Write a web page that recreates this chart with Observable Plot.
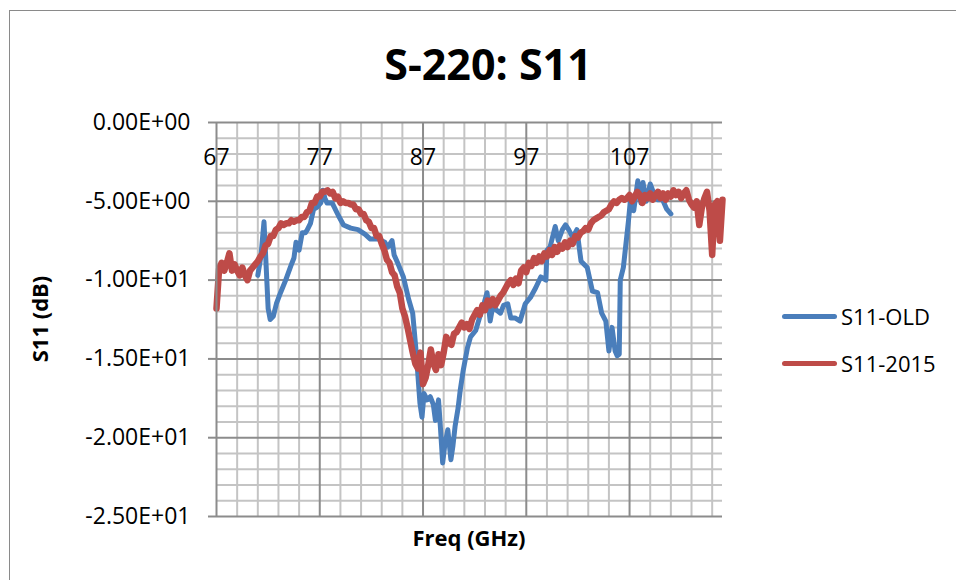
<!DOCTYPE html>
<html><head><meta charset="utf-8">
<script src="https://cdn.jsdelivr.net/npm/d3@7"></script>
<script src="https://cdn.jsdelivr.net/npm/@observablehq/plot@0.6"></script>
<style>
body{margin:0;background:#fff;font-family:"Open Sans",sans-serif;}
#wrap{position:relative;width:956px;height:580px;overflow:hidden;background:#fff;}
#border{position:absolute;left:9px;top:10px;width:1000px;height:1000px;border:1.5px solid #8a8a8a;}
.abs{position:absolute;white-space:nowrap;color:#000;}
#title{left:288px;width:400px;top:42px;text-align:center;font-size:43px;line-height:43px;font-weight:700;}
#ytitle{left:39px;top:319px;font-size:22px;line-height:22px;font-weight:700;transform:translate(-50%,-50%) rotate(-90deg);}
#xtitle{left:369px;width:200px;top:526px;text-align:center;font-size:22px;line-height:22px;font-weight:700;}
.lg-line{position:absolute;left:782px;width:55px;height:5px;border-radius:3px;}
.lg-text{position:absolute;left:841px;font-size:22px;line-height:22px;}
</style></head><body>
<div id="wrap">
<div id="border"></div>
<div id="chart" class="abs" style="left:0;top:0"></div>
<div id="title" class="abs">S-220: S11</div>
<div id="ytitle" class="abs">S11 (dB)</div>
<div id="xtitle" class="abs">Freq (GHz)</div>
<div id="legend"></div>
</div>
<script>
const seriesNames = ["S11-OLD", "S11-2015"];
const seriesColors = ["#4a7ebb", "#be4b48"];

const xTicks = [67, 77, 87, 97, 107];
const xMinorGrid = [69,71,73,75,79,81,83,85,89,91,93,95,99,101,103,105,109,111,113,115];
const xMajorGrid = [77, 87, 97, 107];
const yTicks = [0, -5, -10, -15, -20, -25];
const yMinorGrid = [-1,-2,-3,-4,-6,-7,-8,-9,-11,-12,-13,-14,-16,-17,-18,-19,-21,-22,-23,-24];
const yMajorGrid = [-5, -10, -15, -20, -25];

const oldFreq = [71.0,71.3,71.6,71.8,72.0,72.2,72.5,72.8,73.2,73.7,74.2,74.5,74.7,75.0,75.3,75.6,75.8,76.1,76.4,76.7,
77.1,77.3,77.5,77.7,78.2,78.8,79.3,80.0,80.7,81.4,81.9,82.7,83.3,83.6,84.0,84.2,84.6,85.1,85.6,86.0,
86.3,86.5,86.7,86.9,87.1,87.4,87.7,88.0,88.2,88.5,88.7,88.9,89.1,89.4,89.7,89.9,90.1,90.4,90.6,90.9,
91.3,91.6,92.1,92.6,92.9,93.2,93.5,93.8,94.1,94.5,94.8,95.2,95.5,95.9,96.4,96.9,97.4,97.9,98.4,98.9,
99.0,99.3,99.8,100.1,100.5,100.8,101.1,101.5,101.9,102.3,102.9,103.4,103.9,104.3,104.7,105.0,105.3,105.6,105.8,106.0,
106.1,106.4,106.9,107.1,107.4,107.8,108.1,108.3,108.6,109.0,109.4,109.7,110.2,110.6,111.0];
const oldS11 = [-9.7,-8.5,-6.3,-9.0,-11.8,-12.5,-12.3,-11.5,-10.8,-10.0,-9.1,-8.6,-7.6,-8.1,-7.0,-7.0,-6.8,-6.4,-5.5,-5.4,
-5.1,-4.3,-4.8,-5.1,-5.1,-5.9,-6.5,-6.7,-6.8,-7.1,-7.4,-7.4,-7.6,-7.9,-7.5,-8.4,-9.0,-9.8,-11.2,-12.1,
-14.3,-16.0,-17.8,-18.7,-17.2,-17.6,-17.4,-17.9,-18.9,-17.6,-19.5,-21.6,-20.5,-19.5,-21.4,-20.5,-19.3,-18.1,-17.0,-15.7,
-14.3,-13.6,-13.2,-12.1,-11.5,-10.8,-12.6,-11.5,-11.9,-12.1,-11.6,-11.5,-12.4,-12.4,-12.6,-11.5,-11.1,-10.5,-9.8,-10.0,
-8.1,-7.9,-6.6,-7.5,-6.8,-6.5,-6.8,-7.3,-6.8,-8.8,-9.2,-10.7,-10.8,-12.1,-12.6,-14.5,-13.0,-14.5,-14.8,-14.7,
-10.0,-9.2,-6.2,-4.8,-5.6,-3.7,-5.1,-3.8,-5.0,-3.9,-4.6,-4.9,-4.9,-5.5,-5.8];

const newFreq = [
67,67.25,67.5,67.75, 68,68.25,68.5,68.75, 69,69.25,69.5,69.75, 70,70.25,70.5,70.75, 71,71.25,71.5,71.75,
72,72.25,72.5,72.75, 73,73.25,73.5,73.75, 74,74.25,74.5,74.75, 75,75.25,75.5,75.75, 76,76.25,76.5,76.75,
77,77.25,77.5,77.75, 78,78.25,78.5,78.75, 79,79.25,79.5,79.75, 80,80.25,80.5,80.75, 81,81.25,81.5,81.75,
82,82.25,82.5,82.75, 83,83.25,83.5,83.75, 84,84.25,84.5,84.75, 85,85.25,85.5,85.75, 86,86.25,86.5,86.75,
87,87.25,87.5,87.75, 88,88.25,88.5,88.75, 89,89.25,89.5,89.75, 90,90.25,90.5,90.75, 91,91.25,91.5,91.75,
92,92.25,92.5,92.75, 93,93.25,93.5,93.75, 94,94.25,94.5,94.75, 95,95.25,95.5,95.75, 96,96.25,96.5,96.75,
97,97.25,97.5,97.75, 98,98.25,98.5,98.75, 99,99.25,99.5,99.75, 100,100.25,100.5,100.75, 101,101.25,101.5,101.75,
102,102.25,102.5,102.75, 103,103.25,103.5,103.75, 104,104.25,104.5,104.75, 105,105.25,105.5,105.75, 106,106.25,106.5,106.75,
107,107.25,107.5,107.75, 108,108.25,108.5,108.75, 109,109.25,109.5,109.75, 110,110.25,110.5,110.75, 111,111.25,111.5,111.75,
112,112.25,112.5,112.75, 113,113.25,113.5,113.75, 114,114.25,114.5,114.75, 115,115.25,115.5,115.75, 116];
const newS11 = [
-11.8,-9.3,-8.9,-9.4, -8.9,-8.3,-9.4,-9.0, -9.4,-9.7,-9.2,-9.7, -10.0,-9.4,-9.2,-9.0, -8.8,-8.5,-8.3,-7.8,
-7.7,-7.2,-7.2,-6.8, -6.7,-6.4,-6.5,-6.4, -6.4,-6.2,-6.3,-6.2, -6.2,-6.0,-6.0,-5.7, -5.6,-5.1,-5.1,-4.7,
-4.7,-4.4,-4.4,-4.3, -4.5,-4.4,-4.8,-4.7, -5.1,-5.0,-5.1,-5.1, -5.2,-5.2,-5.5,-5.5, -5.8,-5.8,-6.2,-6.3,
-6.7,-6.7,-7.2,-7.2, -7.7,-8.1,-8.7,-8.9, -9.5,-9.7,-10.4,-10.8, -11.8,-12.3,-13.0,-13.8, -14.6,-15.3,-15.6,-14.6,
-16.6,-16.2,-15.4,-14.4, -15.3,-15.7,-14.7,-15.4, -14.6,-13.6,-14.0,-14.1, -13.4,-13.3,-13.0,-12.7, -13.0,-12.8,-13.1,-12.5,
-12.2,-11.9,-12.2,-11.6, -11.9,-11.3,-11.6,-11.2, -11.6,-11.3,-11.0,-10.8, -10.5,-10.2,-10.0,-10.3, -9.9,-10.2,-9.4,-9.2,
-9.5,-8.9,-9.1,-8.6, -8.9,-8.5,-8.8,-8.3, -8.5,-8.1,-8.4,-7.9, -8.2,-7.8,-8.0,-7.6, -7.9,-7.5,-7.7,-7.2,
-7.3,-7.0,-6.9,-6.7, -6.8,-6.4,-6.2,-6.1, -6.0,-5.9,-5.7,-5.6, -5.5,-5.2,-5.0,-5.1, -4.9,-4.8,-4.9,-4.8,
-4.6,-5.0,-4.7,-4.4, -4.6,-5.1,-4.6,-4.8, -4.5,-4.9,-4.6,-4.4, -4.8,-4.5,-4.9,-4.5, -4.7,-4.3,-4.6,-4.4,
-4.8,-4.5,-4.3,-4.9, -5.2,-5.4,-5.0,-6.5, -5.4,-4.8,-4.4,-5.6, -8.4,-5.2,-5.0,-7.5, -4.9];

const oldData = oldFreq.map((f, i) => ({f, v: oldS11[i]}));
const newData = newFreq.map((f, i) => ({f, v: newS11[i]}));

const fmtE = d => {
  const s = d.toExponential(2).toUpperCase();
  return s.replace(/E([+-])(\d+)$/, (m, sg, ex) => "E" + sg + ex.padStart(2, "0"));
};

const minorC = "#c4c4c4", majorC = "#8c8c8c";

const chart = Plot.plot({
  width: 956, height: 580,
  marginLeft: 216, marginRight: 234, marginTop: 122, marginBottom: 64,
  x: {domain: [67, 116], axis: null},
  y: {domain: [-25, 0]},
  style: {fontFamily: "'Open Sans', sans-serif", background: "transparent", color: "#000", overflow: "visible"},
  marks: [
    Plot.ruleX(xMinorGrid, {stroke: minorC, strokeWidth: 2}),
    Plot.ruleY(yMinorGrid, {stroke: minorC, strokeWidth: 2}),
    Plot.ruleX(xMajorGrid, {stroke: majorC, strokeWidth: 2}),
    Plot.ruleY(yMajorGrid, {stroke: majorC, strokeWidth: 2}),
    Plot.line(oldData, {x: "f", y: "v", stroke: seriesColors[0], strokeWidth: 5, strokeLinejoin: "round", strokeLinecap: "round"}),
    Plot.line(newData, {x: "f", y: "v", stroke: seriesColors[1], strokeWidth: 6.5, strokeLinejoin: "round", strokeLinecap: "round"}),
    Plot.ruleX([67], {stroke: majorC, strokeWidth: 2}),
    Plot.ruleY([0], {stroke: majorC, strokeWidth: 2}),
    Plot.axisY(yTicks, {tickFormat: fmtE, tickSize: 8, tickPadding: 18, fontSize: 23, stroke: majorC, strokeWidth: 2, fill: "#000", label: null}),
    Plot.text(xTicks, {x: d => d, y: () => 0, dy: 35, fontSize: 23, fill: "#000", text: d => String(d)})
  ]
});
document.getElementById("chart").appendChild(chart);

const legend = document.getElementById("legend");
const lgTops = [313.5, 360.5];
seriesNames.forEach((name, i) => {
  const ln = document.createElement("div");
  ln.className = "lg-line";
  ln.style.top = lgTops[i] + "px";
  ln.style.background = seriesColors[i];
  legend.appendChild(ln);
  const tx = document.createElement("div");
  tx.className = "lg-text";
  tx.style.top = (lgTops[i] - 9) + "px";
  tx.textContent = name;
  legend.appendChild(tx);
});
</script>
</body></html>
